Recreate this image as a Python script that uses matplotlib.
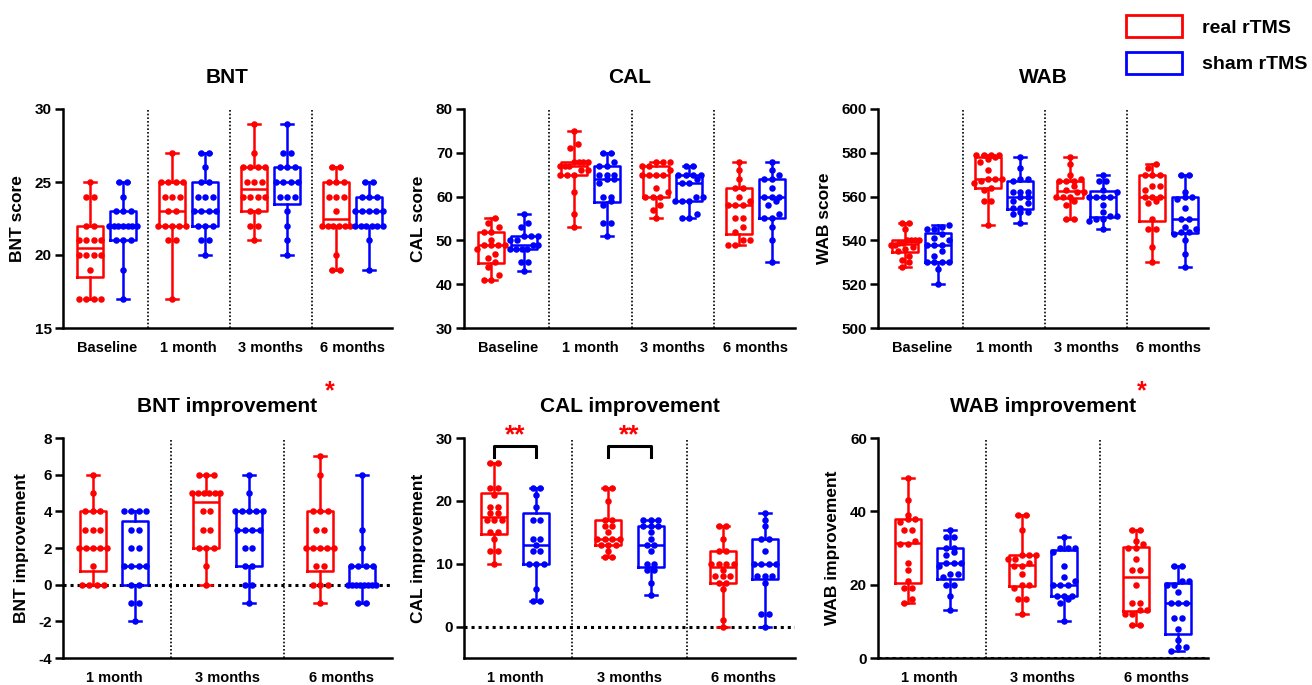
import numpy as np
import matplotlib
matplotlib.use('Agg')
import matplotlib.pyplot as plt
from matplotlib.patches import Patch

plt.rcParams['font.family'] = ['Liberation Sans', 'DejaVu Sans']
plt.rcParams['font.weight'] = 'bold'
plt.rcParams['axes.unicode_minus'] = False

RED = '#ff0000'
BLUE = '#0000ff'

score_labels = ['Baseline', '1 month', '3 months', '6 months']
impr_labels = ['1 month', '3 months', '6 months']

# raw scores per time point (real / sham)
bnt_real = [
    [17, 17, 17, 17, 19, 20, 20, 20, 20, 21, 21, 21, 21, 22, 22, 24, 24, 25],
    [17, 21, 21, 22, 22, 22, 22, 22, 23, 23, 24, 24, 24, 25, 25, 25, 25, 27],
    [21, 22, 22, 23, 23, 24, 24, 24, 24, 25, 25, 25, 26, 26, 26, 26, 27, 29],
    [19, 19, 20, 22, 22, 22, 22, 22, 22, 23, 24, 24, 24, 25, 25, 25, 26, 26],
]
bnt_sham = [
    [17, 19, 21, 21, 21, 22, 22, 22, 22, 22, 22, 22, 23, 23, 23, 24, 25, 25],
    [20, 21, 21, 22, 22, 22, 23, 23, 23, 23, 24, 24, 24, 25, 25, 26, 27, 27],
    [20, 21, 22, 23, 24, 24, 24, 25, 25, 25, 25, 26, 26, 26, 27, 27, 29],
    [19, 21, 22, 22, 22, 22, 22, 22, 23, 23, 23, 23, 23, 24, 24, 24, 25, 25],
]
cal_real = [
    [41, 41, 42, 44, 45, 46, 47, 48, 49, 49, 49, 49, 50, 52, 52, 53, 54, 55],
    [53, 56, 61, 65, 65, 65, 66, 66, 67, 67, 67, 68, 68, 68, 68, 71, 72, 75],
    [55, 57, 58, 60, 60, 60, 61, 62, 65, 65, 65, 65, 66, 67, 67, 68, 68, 68],
    [49, 49, 50, 50, 52, 53, 55, 55, 58, 58, 58, 59, 60, 62, 62, 64, 66, 68],
]
cal_sham = [
    [43, 45, 45, 48, 48, 48, 48, 49, 49, 50, 50, 51, 51, 51, 53, 54, 56],
    [51, 54, 54, 58, 59, 60, 60, 63, 64, 64, 65, 65, 65, 67, 67, 68, 70, 70],
    [55, 55, 56, 59, 59, 59, 60, 60, 63, 63, 64, 65, 65, 65, 65, 67, 67],
    [45, 50, 53, 55, 55, 56, 58, 59, 60, 60, 60, 62, 64, 64, 65, 66, 68],
]
wab_real = [
    [528, 530, 531, 533, 535, 536, 537, 538, 538, 539, 539, 540, 540, 540, 540, 545, 548, 548],
    [547, 558, 558, 563, 564, 566, 567, 568, 568, 568, 572, 576, 577, 578, 579, 579, 579, 579],
    [550, 550, 556, 558, 560, 560, 560, 562, 562, 563, 565, 567, 567, 567, 568, 570, 575, 578],
    [530, 537, 545, 545, 550, 557, 558, 560, 560, 560, 563, 565, 565, 570, 570, 570, 573, 575],
]
wab_sham = [
    [520, 527, 530, 530, 530, 530, 533, 535, 538, 538, 538, 540, 541, 543, 545, 545, 546, 547],
    [548, 552, 553, 553, 555, 555, 557, 558, 560, 560, 562, 562, 562, 567, 568, 568, 573, 578],
    [545, 549, 550, 550, 551, 551, 553, 556, 560, 560, 560, 560, 562, 563, 567, 567, 570],
    [528, 534, 540, 543, 544, 544, 545, 546, 550, 550, 555, 559, 560, 560, 562, 570, 570],
]

# improvement from baseline
bnt_imp_real = [
    [0, 0, 0, 0, 1, 2, 2, 2, 2, 2, 3, 3, 3, 4, 4, 4, 5, 6],
    [0, 1, 2, 2, 2, 3, 3, 4, 4, 5, 5, 5, 5, 5, 5, 6, 6, 6],
    [-1, 0, 0, 0, 1, 1, 2, 2, 2, 2, 2, 3, 3, 4, 4, 4, 6, 7],
]
bnt_imp_sham = [
    [-2, -1, -1, 0, 0, 1, 1, 1, 1, 2, 2, 3, 3, 4, 4, 4, 4],
    [-1, 0, 0, 1, 1, 2, 2, 3, 3, 3, 3, 4, 4, 4, 4, 4, 5, 6],
    [-1, -1, 0, 0, 0, 0, 0, 0, 0, 0, 1, 1, 1, 1, 2, 3, 6],
]
cal_imp_real = [
    [10, 12, 12, 14, 15, 15, 17, 17, 17, 18, 18, 19, 19, 21, 22, 22, 26, 26],
    [11, 11, 12, 13, 13, 13, 14, 14, 14, 14, 15, 16, 16, 17, 17, 20, 22, 22],
    [0, 1, 6, 7, 7, 8, 8, 8, 9, 10, 10, 10, 10, 12, 12, 14, 16, 16],
]
cal_imp_sham = [
    [4, 4, 6, 10, 10, 10, 12, 12, 13, 14, 14, 17, 17, 19, 21, 22, 22],
    [5, 7, 9, 9, 10, 10, 12, 13, 13, 14, 15, 16, 16, 16, 17, 17, 17],
    [0, 2, 2, 7, 8, 8, 8, 10, 10, 10, 10, 12, 14, 14, 16, 17, 18],
]
wab_imp_real = [
    [15, 16, 19, 19, 21, 24, 26, 31, 31, 32, 35, 35, 37, 38, 38, 39, 43, 49],
    [12, 16, 16, 19, 20, 20, 23, 25, 25, 26, 27, 27, 28, 28, 28, 35, 39, 39],
    [9, 9, 12, 12, 13, 13, 15, 15, 20, 24, 24, 27, 30, 30, 31, 32, 35, 35],
]
wab_imp_sham = [
    [13, 17, 20, 20, 22, 23, 23, 25, 26, 26, 26, 28, 29, 30, 30, 33, 33, 35],
    [10, 15, 16, 17, 17, 17, 20, 20, 20, 21, 22, 25, 29, 30, 30, 30, 33],
    [2, 3, 3, 5, 8, 11, 11, 15, 15, 15, 18, 20, 20, 21, 21, 25, 25],
]

# significance brackets on CAL improvement (group index)
cal_sig_groups = [0, 1]
cal_sig_y = 28.8


def box_stats(vals):
    v = np.asarray(vals, float)
    q1, med, q3 = np.percentile(v, [25, 50, 75], method='weibull')
    return dict(med=med, q1=q1, q3=q3, whislo=v.min(), whishi=v.max(), fliers=[])


def px_per_unit(ax):
    return ax.transData.transform([[1, 0]])[0, 0] - ax.transData.transform([[0, 0]])[0, 0]


def swarm(ax, x0, vals, d=7.5, h=4.5, span=28.0):
    # Prism-like rows: bin close values, spread each row around the centre
    ys = ax.transData.transform(np.column_stack([np.full(len(vals), x0), vals]))[:, 1]
    order = np.argsort(ys, kind='stable')
    bins, cur, start = [], [order[0]], ys[order[0]]
    for i in order[1:]:
        if ys[i] - start < h:
            cur.append(i)
        else:
            bins.append(cur)
            cur, start = [i], ys[i]
    bins.append(cur)
    offs = np.zeros(len(vals))
    for b in bins:
        m = len(b)
        step = min(d, span / (m - 1)) if m > 1 else 0
        for k, i in enumerate(b):
            offs[i] = (k - (m - 1) / 2) * step
    return x0 + offs / px_per_unit(ax)


def panel(ax, real, sham, labels, step, margins, ylim, yticks, ylabel, title, zero=False):
    n = len(real)
    pos_r = np.arange(n) * step
    pos_s = pos_r + 1
    ax.set_xlim(-margins[0], pos_s[-1] + margins[1])
    ax.set_ylim(*ylim)
    ppu = px_per_unit(ax)
    bw, cw = 26 / ppu, 12 / ppu
    for vals_list, pos, col in [(real, pos_r, RED), (sham, pos_s, BLUE)]:
        for vals, p in zip(vals_list, pos):
            lp = dict(color=col, lw=1.8)
            ax.bxp([box_stats(vals)], positions=[p], widths=bw, capwidths=cw,
                   showfliers=False, manage_ticks=False,
                   boxprops=lp, whiskerprops=lp, capprops=lp, medianprops=lp)
            ax.scatter(swarm(ax, p, vals), vals, s=22, color=col, linewidths=0,
                       zorder=3, clip_on=False)
    for i in range(n - 1):
        ax.axvline((pos_s[i] + pos_r[i + 1]) / 2, color='black', lw=1.2,
                   ls=(0, (1, 1.2)), zorder=0)
    if zero:
        ax.axhline(0, color='black', lw=2.2, ls=(0, (1, 1.3)), zorder=1)
    ax.set_xticks((pos_r + pos_s) / 2)
    ax.set_xticklabels(labels)
    ax.set_yticks(yticks)
    ax.tick_params(axis='x', length=0, labelsize=10.5, pad=9)
    ax.tick_params(axis='y', length=6, width=1.8, labelsize=11, pad=2)
    for s in ['top', 'right']:
        ax.spines[s].set_visible(False)
    for s in ['left', 'bottom']:
        ax.spines[s].set_linewidth(1.8)
    ax.set_ylabel(ylabel, fontsize=12.5, fontweight='bold', labelpad=7)
    ax.set_title(title, fontsize=15, fontweight='bold', pad=19)
    return pos_r, pos_s


W, H = 1312, 685
fig = plt.figure(figsize=(W / 100, H / 100), dpi=100)
cols = [(63, 392), (464, 795), (878, 1208)]
rows = [(109, 328), (438, 658)]


def make_ax(c, r):
    x0, x1 = cols[c]
    y0, y1 = rows[r]
    return fig.add_axes([x0 / W, 1 - y1 / H, (x1 - x0) / W, (y1 - y0) / H])


top_m = (0.83, 0.7)
bot_m = (0.71, 0.71)

ax = make_ax(0, 0)
panel(ax, bnt_real, bnt_sham, score_labels, 2.5, top_m, (15, 30), [15, 20, 25, 30], 'BNT score', 'BNT')
ax = make_ax(1, 0)
panel(ax, cal_real, cal_sham, score_labels, 2.5, top_m, (30, 80), np.arange(30, 81, 10), 'CAL score', 'CAL')
ax = make_ax(2, 0)
panel(ax, wab_real, wab_sham, score_labels, 2.5, top_m, (500, 600), np.arange(500, 601, 20), 'WAB score', 'WAB')

ax = make_ax(0, 1)
panel(ax, bnt_imp_real, bnt_imp_sham, impr_labels, 2.7, bot_m, (-4, 8), np.arange(-4, 9, 2),
      'BNT improvement', 'BNT improvement', zero=True)
ax.text(0.81, 1.21, '*', transform=ax.transAxes, color=RED, fontsize=18, ha='center', va='center')

ax = make_ax(1, 1)
pr, ps = panel(ax, cal_imp_real, cal_imp_sham, impr_labels, 2.7, bot_m, (-5, 30), [0, 10, 20, 30],
               'CAL improvement', 'CAL improvement', zero=True)
for g in cal_sig_groups:
    ax.plot([pr[g], pr[g], ps[g], ps[g]], [cal_sig_y - 1.8, cal_sig_y, cal_sig_y, cal_sig_y - 1.8],
            color='black', lw=2.2, clip_on=False)
    ax.text((pr[g] + ps[g]) / 2, cal_sig_y + 1.7, '**', color=RED, fontsize=19,
            ha='center', va='center', clip_on=False)

ax = make_ax(2, 1)
panel(ax, wab_imp_real, wab_imp_sham, impr_labels, 2.7, bot_m, (0, 60), [0, 20, 40, 60],
      'WAB improvement', 'WAB improvement', zero=True)
ax.text(0.80, 1.21, '*', transform=ax.transAxes, color=RED, fontsize=18, ha='center', va='center')

handles = [Patch(facecolor='none', edgecolor=RED, lw=2, label='real rTMS'),
           Patch(facecolor='none', edgecolor=BLUE, lw=2, label='sham rTMS')]
fig.legend(handles=handles, loc='upper left', bbox_to_anchor=(1126 / W, 1 - 15 / H),
           frameon=False, prop={'weight': 'bold', 'size': 14}, handlelength=2.9,
           handleheight=1.37, handletextpad=1.0, labelspacing=0.75,
           borderpad=0, borderaxespad=0)

fig.savefig('out.png', dpi=100)
